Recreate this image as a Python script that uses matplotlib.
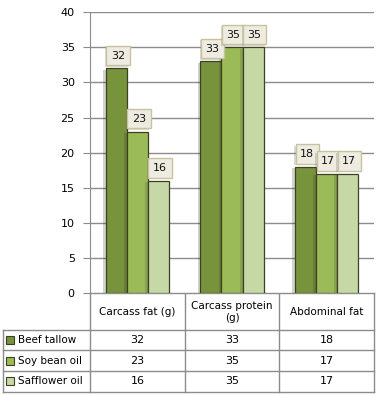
import numpy as np
import matplotlib
matplotlib.use("Agg")
import matplotlib.pyplot as plt
import matplotlib.patheffects as pe

categories = ["Carcass fat (g)", "Carcass protein\n(g)", "Abdominal fat"]
series_names = ["Beef tallow", "Soy bean oil", "Safflower oil"]
beef_tallow = [32, 33, 18]
soy_bean_oil = [23, 35, 17]
safflower_oil = [16, 35, 17]
colors = ["#77933C", "#9BBB59", "#C6D8A6"]
yticks = [0, 5, 10, 15, 20, 25, 30, 35, 40]

W, H = 378, 396
plt.rcParams['font.family'] = ['DejaVu Sans']
fig = plt.figure(figsize=(W / 100, H / 100), dpi=100)

# plot area in pixels
left, right, top, bottom = 90, 374, 12.3, 293
ax = fig.add_axes([left / W, 1 - bottom / H, (right - left) / W, (bottom - top) / H])

series = [beef_tallow, soy_bean_oil, safflower_oil]
x = np.arange(len(categories))
bw = 0.222
for i, vals in enumerate(series):
    xs = x + (i - 1) * bw
    ax.bar(xs, vals, width=bw, color=colors[i], edgecolor="#3f3f22", linewidth=0.9, zorder=3,
           path_effects=[pe.SimplePatchShadow(offset=(-2, -1), alpha=0.2), pe.Normal()])
    for xv, v in zip(xs, vals):
        t = ax.annotate(str(v), (xv, v), xytext=(1.2, 5.6), textcoords="offset points",
                        ha="center", va="bottom", fontsize=8, color="#111111", zorder=5,
                        bbox=dict(boxstyle="square,pad=0.42", fc="#EEECE1", ec="#C9C2A0", lw=1))
        t.get_bbox_patch().set_path_effects(
            [pe.SimplePatchShadow(offset=(-1, -1), alpha=0.2), pe.Normal()])

ax.set_xlim(-0.5, len(categories) - 0.5)
ax.set_ylim(0, 40)
ax.set_yticks(yticks)
ax.set_xticks([])
ax.yaxis.grid(True, color="#8c8c8c", linewidth=1, zorder=0)
ax.tick_params(axis="y", length=5, color="#8c8c8c", labelsize=8, pad=6)
for s in ["top", "right", "bottom"]:
    ax.spines[s].set_visible(False)
ax.spines["left"].set_color("#8c8c8c")

# data table under the plot
tab = fig.add_axes([0, 0, 1, 1], zorder=-1)
tab.set_xlim(0, W)
tab.set_ylim(H, 0)
tab.axis("off")
col_w = (right - left) / len(categories)
col_edges = [left + k * col_w for k in range(len(categories) + 1)]
row_edges = [bottom, 329.5, 350, 371, 391.5]
tab_left = 3
lc = "#8c8c8c"
tab.plot([left, right], [row_edges[0]] * 2, color=lc, lw=1)
for yv in row_edges[1:]:
    tab.plot([tab_left, right], [yv, yv], color=lc, lw=1)
for xv in col_edges:
    tab.plot([xv, xv], [row_edges[0], row_edges[-1]], color=lc, lw=1)
tab.plot([tab_left, tab_left], [row_edges[1], row_edges[-1]], color=lc, lw=1)

for k, c in enumerate(categories):
    tab.text((col_edges[k] + col_edges[k + 1]) / 2, (row_edges[0] + row_edges[1]) / 2 + 1, c,
             ha="center", va="center", fontsize=7.5, linespacing=1.3)
for r, (name, vals) in enumerate(zip(series_names, series)):
    yc = (row_edges[r + 1] + row_edges[r + 2]) / 2
    tab.add_patch(plt.Rectangle((5.5, yc - 4), 8, 8, fc=colors[r], ec="#3f3f22", lw=0.8))
    tab.text(18, yc, name, ha="left", va="center", fontsize=7.5)
    for k, v in enumerate(vals):
        tab.text((col_edges[k] + col_edges[k + 1]) / 2, yc, str(v), ha="center", va="center",
                 fontsize=8)

fig.savefig("out.png", dpi=100, facecolor="white")
